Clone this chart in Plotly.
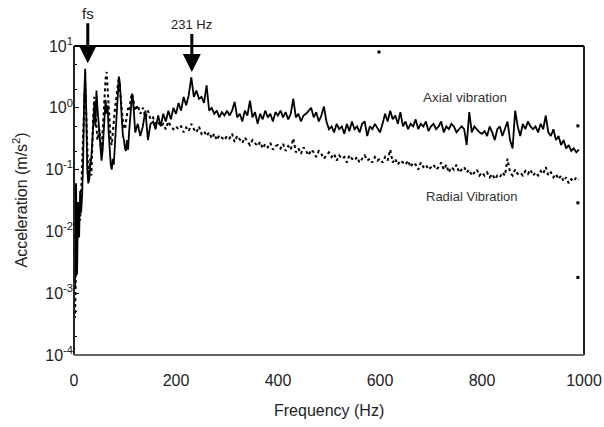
import plotly.graph_objects as go

# Frequency grids (Hz)
freq_low = list(range(0, 120, 2))
freq_high = list(range(120, 995, 5))
freq = freq_low + freq_high

axial_low = [0.15, 0.0012, 0.06, 0.002, 0.03, 0.008, 0.045, 0.02, 0.04, 0.15,
             1.6, 4.3, 0.9, 0.1, 0.06, 0.07, 0.12, 0.16, 0.3, 0.7,
             1.2, 0.5, 1.9, 1.0, 0.6, 0.3, 0.18, 0.14, 0.2, 0.45,
             0.9, 1.35, 0.8, 1.1, 0.4, 0.18, 0.12, 0.1, 0.15, 0.12,
             0.25, 0.5, 1.2, 2.0, 3.2, 2.5, 1.0, 0.6, 0.35, 0.3,
             0.22, 0.2, 0.3, 0.21, 0.4, 0.7, 1.1, 1.7, 1.3, 0.6]
axial_high = [0.4, 0.55, 0.35, 0.5, 0.9, 0.3, 0.55,
              0.6, 0.45, 0.75, 0.5, 0.8, 0.6, 0.9, 0.65, 1.0, 0.8,
              1.2, 0.9, 1.5, 1.1, 1.6, 3.1, 1.5,
              1.9, 1.4, 1.5, 1.2, 2.3, 0.9, 1.0, 0.8, 0.9, 0.7, 0.85, 0.75, 0.9,
              0.75, 0.9, 1.25, 0.7, 0.8, 0.6, 0.9, 0.75, 1.3, 0.7, 0.85, 0.55, 0.8, 0.65, 0.9, 0.7, 0.8, 0.6, 0.85, 0.75,
              0.9, 0.7, 0.85, 0.65, 0.8, 1.4, 0.7, 0.8, 0.6, 0.75, 0.8, 0.9, 1.0, 0.7, 0.85, 0.6, 0.75, 1.05, 0.6, 0.45,
              0.5, 0.4, 0.55, 0.45, 0.5, 0.38, 0.55, 0.42, 0.6, 0.45, 0.5, 0.4, 0.55, 0.6, 0.35, 0.5, 0.45, 0.55, 0.48, 0.4,
              0.55, 0.8, 0.6, 0.9, 0.65, 0.75, 0.55, 0.85, 0.5, 0.6, 0.45, 0.55, 0.5, 0.65, 0.45, 0.55, 0.5, 0.6, 0.42, 0.5,
              0.55, 0.45, 0.5, 0.6, 0.4, 0.5, 0.45, 0.55, 0.5, 0.4, 0.45, 0.5, 0.45, 0.25, 0.85, 0.4, 0.5, 0.45, 0.4, 0.38,
              0.42, 0.35, 0.5, 0.4, 0.3, 0.45, 0.5, 0.35, 0.45, 0.6, 0.3, 0.22, 0.9, 0.5, 0.35, 0.55, 0.45, 0.6, 0.5, 0.45,
              0.5, 0.4, 0.55, 0.45, 0.75, 0.4, 0.35, 0.45, 0.3, 0.35, 0.25, 0.3, 0.22, 0.25, 0.2, 0.22, 0.19, 0.21]
axial = axial_low + axial_high

radial_low = [0.002, 0.0004, 0.003, 0.012, 0.008, 0.03, 0.015, 0.05, 0.08, 0.3,
              1.0, 2.5, 0.6, 0.12, 0.08, 0.1, 0.15, 0.08, 0.3, 0.8,
              1.5, 1.0, 0.5, 0.3, 0.35, 0.45, 0.25, 0.2, 0.4, 0.9,
              1.8, 3.0, 3.8, 2.0, 0.8, 0.4, 0.3, 0.25, 0.35, 0.6,
              0.9, 1.3, 2.0, 2.8, 3.2, 2.0, 1.3, 0.8, 0.6, 0.5,
              0.45, 0.6, 0.8, 1.0, 0.9, 1.2, 1.5, 1.7, 1.3, 1.0]
radial_high = [0.9, 1.1, 0.8, 1.0, 0.7, 0.9, 0.65,
               0.7, 0.55, 0.6, 0.5, 0.55, 0.45, 0.6, 0.5, 0.45, 0.5,
               0.45, 0.5, 0.4, 0.48, 0.42, 0.55, 0.45,
               0.4, 0.5, 0.38, 0.42, 0.35, 0.4, 0.32, 0.38, 0.3, 0.36, 0.33, 0.3, 0.35,
               0.32, 0.38, 0.28, 0.35, 0.3, 0.27, 0.33, 0.29, 0.25, 0.3, 0.27, 0.24, 0.28, 0.22, 0.26, 0.23, 0.27, 0.21, 0.24, 0.25,
               0.22, 0.26, 0.2, 0.24, 0.21, 0.32, 0.19, 0.22, 0.18, 0.23, 0.2, 0.17, 0.21, 0.19, 0.16, 0.2, 0.18, 0.15, 0.17, 0.19,
               0.16, 0.18, 0.14, 0.17, 0.15, 0.16, 0.13, 0.17, 0.15, 0.14, 0.16, 0.13, 0.15, 0.17, 0.14, 0.15, 0.13, 0.16, 0.14, 0.15,
               0.13, 0.16, 0.14, 0.21, 0.13, 0.15, 0.12, 0.14, 0.13, 0.12, 0.14, 0.11, 0.13, 0.12, 0.1, 0.13, 0.11, 0.12, 0.1, 0.11,
               0.12, 0.1, 0.11, 0.13, 0.1, 0.12, 0.09, 0.11, 0.1, 0.12, 0.09, 0.1, 0.11, 0.09, 0.1, 0.08, 0.09, 0.1, 0.08, 0.09,
               0.08, 0.09, 0.075, 0.085, 0.07, 0.08, 0.075, 0.09, 0.08, 0.15, 0.09, 0.08, 0.1, 0.085, 0.09, 0.08, 0.095, 0.085, 0.1, 0.08,
               0.09, 0.08, 0.095, 0.085, 0.11, 0.08, 0.09, 0.075, 0.085, 0.07, 0.08, 0.065, 0.075, 0.06, 0.07, 0.065, 0.075, 0.07]
radial = radial_low + radial_high

stray_freq = [598, 988, 988, 988]
stray_vals = [8.0, 0.51, 0.029, 0.0018]

ytick_vals = [1e-4, 1e-3, 1e-2, 1e-1, 1e0, 1e1]
ytick_text = ["10<sup>-4</sup>", "10<sup>-3</sup>", "10<sup>-2</sup>",
              "10<sup>-1</sup>", "10<sup>0</sup>", "10<sup>1</sup>"]
xtick_vals = [0, 200, 400, 600, 800, 1000]

FONT = "Liberation Sans, Arial, sans-serif"

fig = go.Figure()
fig.add_trace(go.Scatter(x=freq, y=radial, mode="lines",
                         line=dict(color="black", width=2, dash="dot"),
                         name="Radial Vibration", showlegend=False))
fig.add_trace(go.Scatter(x=freq, y=axial, mode="lines",
                         line=dict(color="black", width=1.8),
                         name="Axial vibration", showlegend=False))
fig.add_trace(go.Scatter(x=stray_freq, y=stray_vals, mode="markers",
                         marker=dict(color="black", size=3, symbol="square"),
                         showlegend=False))

fig.update_layout(
    width=604, height=427,
    margin=dict(l=74, r=20, t=46, b=72),
    paper_bgcolor="white", plot_bgcolor="white",
    font=dict(family=FONT, color="#333"),
    xaxis=dict(range=[0, 1000], tickvals=xtick_vals, showgrid=False, zeroline=False,
               showline=False, ticks="", automargin=False, ticklabelstandoff=14,
               tickfont=dict(size=16, color="#222")),
    yaxis=dict(type="log", range=[-4, 1], tickvals=ytick_vals, ticktext=ytick_text,
               showgrid=False, zeroline=False, showline=False, automargin=False,
               ticks="inside", ticklen=5, tickcolor="black",
               minor=dict(ticks="inside", ticklen=3, tickcolor="black"),
               tickfont=dict(size=16, color="#222")),
    shapes=[
        dict(type="line", xref="paper", yref="paper", x0=0, x1=0, y0=0, y1=1,
             line=dict(color="#222", width=2)),
        dict(type="line", xref="paper", yref="paper", x0=0, x1=1, y0=1, y1=1,
             line=dict(color="black", width=2)),
        dict(type="line", xref="paper", yref="paper", x0=1, x1=1, y0=0, y1=1,
             line=dict(color="#222", width=2)),
        dict(type="line", xref="paper", yref="paper", x0=0, x1=1, y0=0, y1=0,
             line=dict(color="#666", width=2)),
    ],
    annotations=[
        dict(text="Acceleration (m/s<sup>2</sup>)", xref="paper", yref="paper",
             x=0, y=0.5, xshift=-54, xanchor="center", yanchor="middle",
             textangle=-90, showarrow=False, font=dict(size=16, color="#222")),
        dict(text="Frequency (Hz)", xref="paper", yref="paper",
             x=0.5, y=0, yshift=-55, xanchor="center", yanchor="middle",
             showarrow=False, font=dict(size=16, color="#222")),
        dict(text="fs", x=27, y=0.72, xref="x", yref="y", showarrow=True,
             arrowhead=2, arrowsize=1.2, arrowwidth=3, arrowcolor="black",
             ax=0, ay=-50, font=dict(size=15, color="#222"), standoff=0),
        dict(text="231 Hz", x=231, y=0.58, xref="x", yref="y", showarrow=True,
             arrowhead=2, arrowsize=1.2, arrowwidth=3, arrowcolor="black",
             ax=0, ay=-47, font=dict(size=13, color="#222"), standoff=0),
        dict(text="Axial vibration", x=766, y=1 - (97 - 46) / 61.8, xref="x", yref="y",
             showarrow=False, font=dict(size=13.5, color="#333")),
        dict(text="Radial Vibration", x=781, y=1 - (196 - 46) / 61.8, xref="x", yref="y",
             showarrow=False, font=dict(size=13, color="#333")),
    ],
)

fig.write_html("out.html")
